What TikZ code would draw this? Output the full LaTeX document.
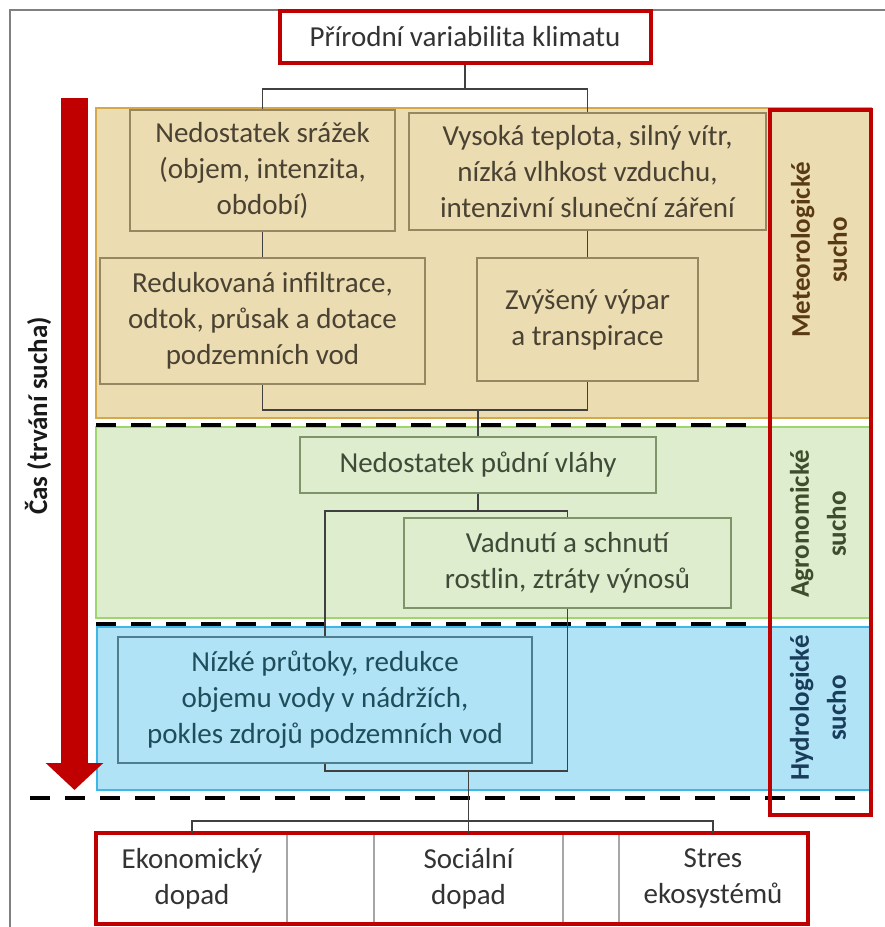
\documentclass[tikz,border=0pt]{standalone}
\usepackage{fontspec}
\setmainfont{Carlito}
\usetikzlibrary{arrows.meta}
\definecolor{boxred}{HTML}{C00000}
\definecolor{mfill}{HTML}{EBDCB2}
\definecolor{mline}{HTML}{D5A94A}
\definecolor{mbord}{HTML}{968760}
\definecolor{mtext}{HTML}{4A4232}
\definecolor{mlab}{HTML}{5A3A14}
\definecolor{afill}{HTML}{DDEDCD}
\definecolor{aline}{HTML}{9DD56F}
\definecolor{abord}{HTML}{7E956A}
\definecolor{atext}{HTML}{404A38}
\definecolor{alab}{HTML}{3E4E2C}
\definecolor{hfill}{HTML}{B0E3F5}
\definecolor{hline}{HTML}{3DB6E8}
\definecolor{hbord}{HTML}{4E7E8E}
\definecolor{htext}{HTML}{1E4D5C}
\definecolor{hlab}{HTML}{1A3D5C}
\newcommand{\boxfont}{\fontsize{29}{36}\selectfont}
\newcommand{\labfont}{\fontsize{27}{37}\selectfont\bfseries}
\tikzset{redbox/.style={draw=boxred, line width=4pt, fill=white, text=black!80, inner sep=0pt, align=center, font=\boxfont}}
\tikzset{cell/.style={draw=black!35, line width=1.5pt, fill=white, text=black!80, inner sep=0pt, align=center, font=\boxfont, minimum height=89pt}}
\tikzset{meteo/.style={draw=mbord, line width=1.5pt, fill=mfill, text=mtext, inner sep=0pt, align=center, font=\boxfont}}
\tikzset{agro/.style={draw=abord, line width=1.5pt, fill=afill, text=atext, inner sep=0pt, align=center, font=\boxfont}}
\tikzset{hydro/.style={draw=hbord, line width=1.5pt, fill=hfill, text=htext, inner sep=0pt, align=center, font=\boxfont}}
\tikzset{lab/.style={rotate=90, align=center, font=\labfont}}
\tikzset{conn/.style={draw=black!75, line width=1.5pt}}
\tikzset{bandcut/.style={black, line width=4pt, dash pattern=on 20pt off 15pt}}
\tikzset{timearrow/.style={boxred, line width=27pt, -{Triangle[length=27pt, width=56pt]}}}

\begin{document}
\begin{tikzpicture}[x=1pt, y=-1pt]
    \useasboundingbox (0,0) rectangle (885,927);
    \draw[black!50, line width=2pt] (10,927) -- (10,10) -- (885,10);

    % pasma sucha
    \filldraw[fill=mfill, draw=mline, line width=1.5pt] (96,108) rectangle (871,418);
    \filldraw[fill=afill, draw=aline, line width=1.5pt] (96,427) rectangle (871,618);
    \filldraw[fill=hfill, draw=hline, line width=1.5pt] (97,627) rectangle (871,790);

    \foreach \y/\a/\b in {425/96/750, 624/96/750, 798/30/870} {
            \draw[bandcut] (\a,\y) -- (\b,\y);
        }

    \draw[timearrow] (74.5,98) -- (74.5,790);
    \node[lab, font=\fontsize{27}{32}\selectfont\bfseries, text=black!90] (cas) at (38,416) {Čas (trvání sucha)};

    \node[redbox, minimum width=371pt, minimum height=52pt] (nat) at (465,37) {Přírodní variabilita klimatu};

    \node[meteo, minimum width=265pt, minimum height=121pt] (srazky) at (262.5,170.5) {Nedostatek srážek\\(objem, intenzita,\\období)};
    \node[meteo, minimum width=357pt, minimum height=117pt] (teplota) at (587.5,171.5) {Vysoká teplota, silný vítr,\\nízká vlhkost vzduchu,\\intenzivní sluneční záření};
    \node[meteo, minimum width=325pt, minimum height=126pt] (infiltrace) at (262.5,321) {Redukovaná infiltrace,\\odtok, průsak a dotace\\podzemních vod};
    \node[meteo, minimum width=221pt, minimum height=123pt] (vypar) at (587.5,319.5) {Zvýšený výpar\\a transpirace};

    \node[agro, minimum width=356pt, minimum height=56pt] (pudni) at (478,465) {Nedostatek půdní vláhy};
    \node[agro, minimum width=327pt, minimum height=90pt] (vadnuti) at (567.5,563) {Vadnutí a schnutí\\rostlin, ztráty výnosů};

    \node[hydro, minimum width=414pt, minimum height=126pt] (nizke) at (325,700) {Nízké průtoky, redukce\\objemu vody v nádržích,\\pokles zdrojů podzemních vod};

    \node[cell, minimum width=190pt] (ekonom) at (192,878.5) {Ekonomický\\dopad};
    \node[cell, minimum width=87pt] (mezera1) at (330.5,878.5) {};
    \node[cell, minimum width=189pt] (socialni) at (468.5,878.5) {Sociální\\dopad};
    \node[cell, minimum width=56pt] (mezera2) at (591,878.5) {};
    \node[cell, minimum width=188pt] (stres) at (713,878.5) {Stres\\ekosystémů};
    \draw[boxred, line width=4pt] (ekonom.north west) rectangle (stres.south east);

    \node[draw=boxred, line width=4.5pt, minimum width=101pt, minimum height=705pt] (druhy) at (820.5,462.5) {};
    \node[lab, text=mlab] (metlab) at (819,250) {Meteorologické\\sucho};
    \node[lab, text=alab] (agrolab) at (818,524) {Agronomické\\sucho};
    \node[lab, text=hlab] (hydrolab) at (818,708) {Hydrologické\\sucho};

    \coordinate (join1) at (478,410);
    \coordinate (fork2) at (478,511);
    \coordinate (join2) at (468.5,771);
    \coordinate (fork3) at (468.5,821);

    \draw[conn] (nat.south) -- ++(0,24) -| (srazky.north);
    \draw[conn] (nat.south) -- ++(0,24) -| (teplota.north);
    \draw[conn] (srazky) -- (infiltrace);
    \draw[conn] (teplota) -- (vypar);
    \draw[conn] (infiltrace.south) |- (join1) -| (vypar.south);
    \draw[conn] (join1) -- (pudni);
    \draw[conn] (pudni) -- (fork2) -| (nizke.north);
    \draw[conn] (fork2) -| (vadnuti.north);
    \draw[conn] (nizke.south) |- (join2) -| (vadnuti.south);
    \draw[conn] (join2) -- (socialni.north);
    \draw[conn] (fork3) -| (ekonom.north);
    \draw[conn] (fork3) -| (stres.north);
\end{tikzpicture}
\end{document}
